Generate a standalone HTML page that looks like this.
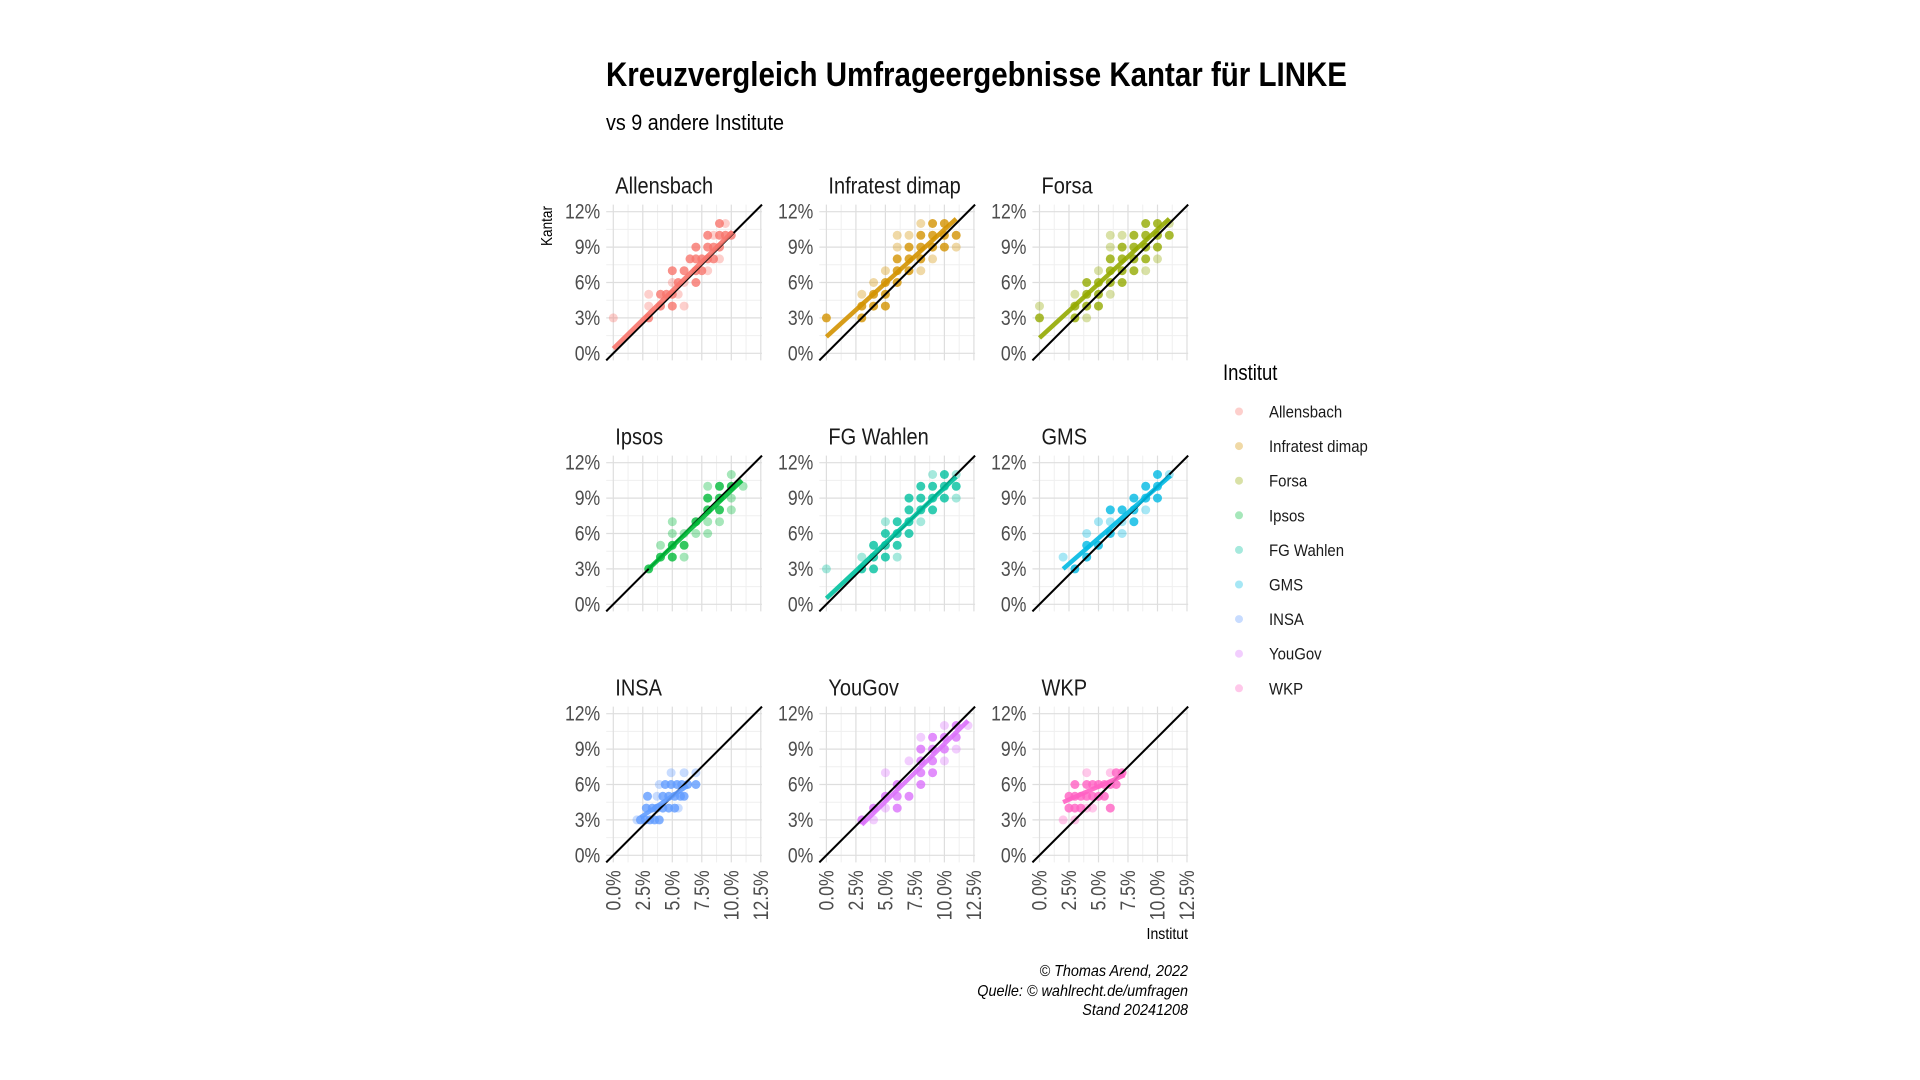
<!DOCTYPE html>
<html><head><meta charset="utf-8">
<style>
html,body{margin:0;padding:0;background:#fff;}
svg{display:block;font-family:"Liberation Sans Narrow","Liberation Sans",sans-serif;}
</style></head>
<body>
<svg id="chart" width="1920" height="1080" viewBox="0 0 1920 1080" xmlns="http://www.w3.org/2000/svg">
<rect width="1920" height="1080" fill="#fff"/>
<text x="606" y="86" font-size="34" font-weight="bold" fill="#000" textLength="741" lengthAdjust="spacingAndGlyphs">Kreuzvergleich Umfrageergebnisse Kantar für LINKE</text>
<text x="606" y="130" font-size="22" fill="#000" textLength="178" lengthAdjust="spacingAndGlyphs">vs 9 andere Institute</text>
<text transform="translate(552,226) rotate(-90) scale(0.85,1)" text-anchor="middle" font-size="16" fill="#000">Kantar</text>
<text transform="translate(1188,939) scale(0.88,1)" text-anchor="end" font-size="16" fill="#000">Institut</text>
<g id="panels"></g>
<g id="legend">
<text transform="translate(1223,380) scale(0.84,1)" font-size="22" fill="#000">Institut</text>
</g>
<g font-size="16" font-style="italic" fill="#000" text-anchor="end">
<text transform="translate(1188,976) scale(0.9,1)">© Thomas Arend, 2022</text>
<text transform="translate(1188,996) scale(0.9,1)">Quelle: © wahlrecht.de/umfragen</text>
<text transform="translate(1188,1015) scale(0.9,1)">Stand 20241208</text>
</g>
</svg>
<script>
const institutes = ["Allensbach","Infratest dimap","Forsa","Ipsos","FG Wahlen","GMS","INSA","YouGov","WKP"];
const colors = ["#F8766D","#D39200","#93AA00","#00BA38","#00C19F","#00B9E3","#619CFF","#DB72FB","#FF61C3"];
const xTicks = [0,2.5,5,7.5,10,12.5];
const xTickLabels = ["0.0%","2.5%","5.0%","7.5%","10.0%","12.5%"];
const yTicks = [0,3,6,9,12];
const yTickLabels = ["0%","3%","6%","9%","12%"];
// points: [institut %, kantar %, dense(1)/sparse(0)]
const ptsAllensbach = [[0,3,0],[3,3,1],[3,4,0],[4,4,1],[5,4,1],[6,4,0],[3,5,0],[4,5,1],[4.5,5,1],[5,5,1],[5.5,5,0],[5,6,0],[5.5,6,1],[6,6,0],[7,6,1],[5,7,1],[6,7,1],[7,7,1],[7.5,7,1],[8,7,0],[6.5,8,1],[7,8,1],[7.5,8,1],[8,8,1],[8.5,8,1],[9,8,0],[7,9,1],[8,9,1],[8.5,9,1],[9,9,1],[8,10,1],[8.5,10,0],[9,10,1],[9.5,10,1],[10,10,1],[9,11,1],[9.5,11,0]];
const ptsInfratest = [[0,3,1],[3,3,1],[3,4,1],[4,4,1],[5,4,1],[3,5,0],[4,5,1],[5,5,1],[4,6,0],[5,6,1],[6,6,1],[5,7,0],[6,7,1],[7,7,1],[8,7,0],[6,8,1],[7,8,1],[8,8,1],[9,8,0],[6,9,0],[7,9,1],[8,9,1],[9,9,1],[10,9,1],[11,9,0],[6,10,0],[7,10,0],[8,10,1],[9,10,1],[10,10,1],[11,10,1],[8,11,0],[9,11,1],[10,11,1]];
const ptsForsa = [[0,3,1],[3,3,1],[4,3,0],[0,4,0],[3,4,1],[4,4,1],[5,4,1],[3,5,0],[4,5,1],[5,5,1],[6,5,0],[4,6,1],[5,6,1],[6,6,1],[7,6,1],[5,7,0],[6,7,1],[7,7,1],[8,7,1],[9,7,0],[6,8,1],[7,8,1],[8,8,1],[9,8,1],[10,8,0],[6,9,0],[7,9,1],[8,9,1],[9,9,1],[10,9,1],[6,10,0],[7,10,0],[8,10,1],[9,10,1],[10,10,1],[11,10,1],[9,11,1],[10,11,1],[11,11,0]];
const ptsIpsos = [[3,3,1],[4,4,1],[5,4,1],[6,4,0],[4,5,0],[5,5,1],[6,5,1],[5,6,0],[6,6,0],[7,6,0],[8,6,0],[5,7,0],[7,7,1],[8,7,0],[9,7,0],[8,8,1],[9,8,1],[10,8,0],[8,9,1],[9,9,1],[10,9,0],[8,10,0],[9,10,1],[10,10,1],[11,10,0],[10,11,0]];
const ptsFGWahlen = [[0,3,0],[3,3,1],[4,3,1],[3,4,0],[4,4,1],[5,4,1],[6,4,0],[4,5,1],[5,5,1],[6,5,1],[5,6,1],[6,6,1],[7,6,1],[5,7,0],[6,7,1],[7,7,1],[8,7,0],[7,8,1],[8,8,1],[9,8,1],[7,9,1],[8,9,1],[9,9,1],[10,9,1],[11,9,0],[8,10,1],[9,10,1],[10,10,1],[11,10,1],[9,11,0],[10,11,1],[11,11,0]];
const ptsGMS = [[3,3,1],[2,4,0],[4,4,1],[4,5,1],[5,5,1],[4,6,0],[6,6,1],[7,6,0],[5,7,0],[6,7,0],[7,7,0],[8,7,1],[6,8,1],[7,8,1],[8,8,1],[9,8,0],[8,9,1],[9,9,1],[10,9,1],[9,10,1],[10,10,1],[10,11,1],[11,11,0]];
const ptsINSA = [[2,3,0],[2.3,3,1],[2.7,3,1],[3.1,3,1],[3.5,3,1],[3.9,3,1],[2.8,4,1],[3.3,4,1],[3.7,4,1],[4.2,4,1],[4.7,4,1],[5.2,4,1],[5.5,4,0],[2.9,5,1],[3.7,5,0],[4.2,5,1],[4.7,5,1],[5.2,5,1],[5.7,5,1],[6,5,1],[3.9,6,0],[4.4,6,1],[4.9,6,1],[5.4,6,1],[5.8,6,1],[6.3,6,1],[7,6,1],[4.9,7,0],[6,7,0],[7,7,0]];
const ptsYouGov = [[3,3,1],[4,3,0],[4,4,1],[5,4,0],[6,4,1],[5,5,1],[6,5,1],[7,5,1],[6,6,1],[8,6,1],[5,7,0],[8,7,1],[9,7,1],[7,8,0],[8,8,1],[9,8,1],[10,8,0],[8,9,1],[9,9,1],[10,9,1],[11,9,0],[8,10,0],[9,10,1],[10,10,1],[11,10,1],[10,11,0],[11,11,1],[12,11,0]];
const ptsWKP = [[2,3,0],[3,3,0],[2.5,4,1],[3,4,1],[3.5,4,1],[4,4,0],[4.5,4,0],[6,4,1],[2.5,5,1],[3,5,1],[3.5,5,1],[4,5,1],[4.5,5,1],[5,5,1],[5.5,5,1],[3,6,1],[4,6,1],[4.5,6,1],[5,6,1],[5.5,6,1],[6,6,1],[6.5,6,1],[4,7,0],[6,7,0],[6.5,7,1],[7,7,1]];
const allPoints = [ptsAllensbach,ptsInfratest,ptsForsa,ptsIpsos,ptsFGWahlen,ptsGMS,ptsINSA,ptsYouGov,ptsWKP];
// regression line endpoints [x1,y1,x2,y2]
const fitLines = [[0,0.4,10.1,10.3],[0,1.4,11,11.4],[0,1.3,11,11.4],[3,3,10.9,10.5],[0,0.5,11,10.8],[2,3,11.1,10.9],[2.3,3.2,6.3,5.9],[3,2.6,12,11.4],[2,4.5,7.2,6.8]];

const NS = "http://www.w3.org/2000/svg";
const DMIN = -0.6, DMAX = 12.6, K = 11.8, SX = 0.84;
function mk(tag, attrs, parent){const e=document.createElementNS(NS,tag);for(const k in attrs)e.setAttribute(k,attrs[k]);parent.appendChild(e);return e;}
const panels = document.getElementById('panels');
institutes.forEach((name,i)=>{
  const c=i%3, r=Math.floor(i/3);
  const x0 = 613.3 + 213.1*c, y0 = 353.3 + 251*r;
  const sx = v => x0 + v*K, sy = v => y0 - v*K;
  const g = mk('g',{},panels);
  
  
  for(let v=1.25; v<DMAX; v+=2.5){
    const l=mk('line',{x1:sx(v),x2:sx(v),y1:sy(DMIN),y2:sy(DMAX),stroke:'#efefef','stroke-width':1},g);
    
    
  }
  for(let v=1.5; v<DMAX; v+=3){
    const l=mk('line',{x1:sx(DMIN),x2:sx(DMAX),y1:sy(v),y2:sy(v),stroke:'#efefef','stroke-width':1},g);
    
    
  }
  xTicks.forEach((v,k)=>{
    const l=mk('line',{x1:sx(v),x2:sx(v),y1:sy(DMIN),y2:sy(DMAX),stroke:'#dedede','stroke-width':1.2},g);
    
    
    if(r===2){
      const t=mk('text',{transform:`translate(${sx(v)+7},${sy(DMIN)+8}) rotate(-90) scale(${SX},1)`,'text-anchor':'end','font-size':21,fill:'#4d4d4d'},g);
      t.textContent=xTickLabels[k];
      
      
    }
  });
  yTicks.forEach((v,k)=>{
    const l=mk('line',{x1:sx(DMIN),x2:sx(DMAX),y1:sy(v),y2:sy(v),stroke:'#dedede','stroke-width':1.2},g);
    
    
    const t=mk('text',{transform:`translate(${sx(DMIN)-6},${sy(v)+7}) scale(${SX},1)`,'text-anchor':'end','font-size':21,fill:'#4d4d4d'},g);
    t.textContent=yTickLabels[k];
    
    
  });
  const st=mk('text',{transform:`translate(${x0+2},${y0-160}) scale(0.87,1)`,'font-size':23,fill:'#1a1a1a'},g);
  st.textContent=name;
  
  
  allPoints[i].forEach(p=>{
    const ci=mk('circle',{cx:sx(p[0]),cy:sy(p[1]),r:4.5,fill:colors[i],'fill-opacity':p[2]?0.8:0.35},g);
    
    
  });
  const d=mk('line',{x1:sx(DMIN),y1:sy(DMIN),x2:sx(DMAX),y2:sy(DMAX),stroke:'#000','stroke-width':2},g);
  
  
  const f=fitLines[i];
  const fl=mk('line',{x1:sx(f[0]),y1:sy(f[1]),x2:sx(f[2]),y2:sy(f[3]),stroke:colors[i],'stroke-width':4.5,'stroke-opacity':0.9},g);
  
  
});
const lg=document.getElementById('legend');
institutes.forEach((name,i)=>{
  const y=411.5+34.6*i;
  const e=mk('g',{},lg);
  
  
  mk('circle',{cx:1239,cy:y,r:4,fill:colors[i],'fill-opacity':0.35},e);
  const t=mk('text',{transform:`translate(1269,${y+6}) scale(0.88,1)`,'font-size':17,fill:'#1a1a1a'},e);
  t.textContent=name;
});
</script>
</body></html>
